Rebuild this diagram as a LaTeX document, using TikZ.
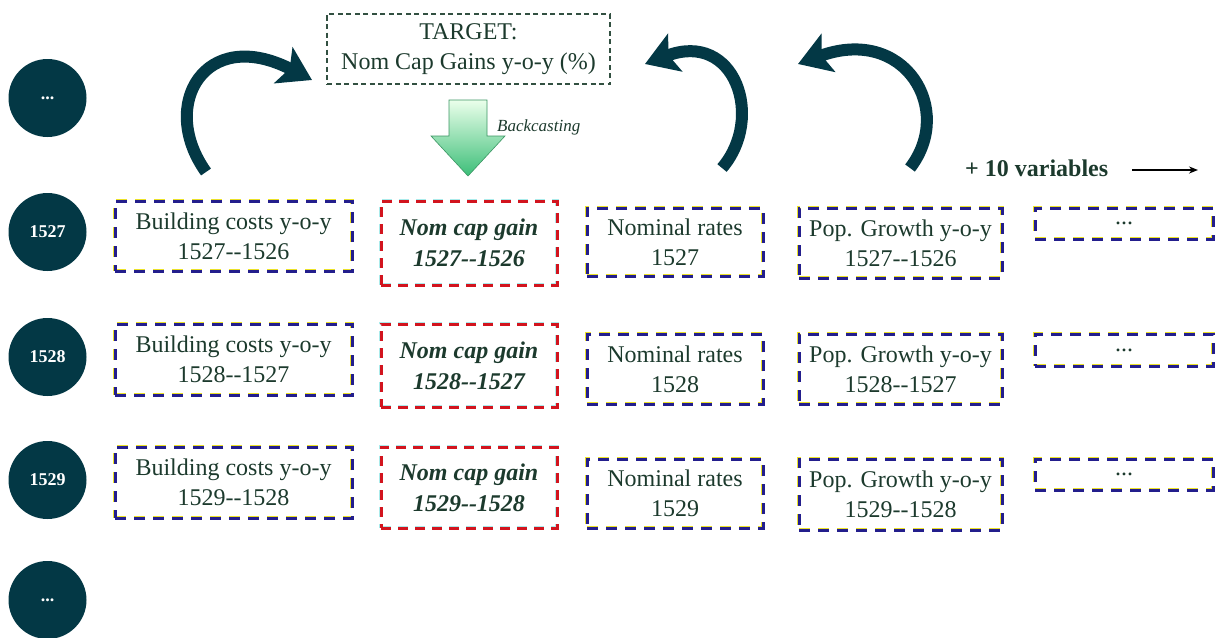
\documentclass[tikz,border=0pt]{standalone}
\usepackage{fontspec}
\setmainfont{Liberation Serif}
\usetikzlibrary{arrows.meta}
\definecolor{txt}{RGB}{28,58,45}
\definecolor{navy}{RGB}{35,30,140}
\definecolor{yel}{RGB}{235,225,40}
\definecolor{redd}{RGB}{210,20,30}
\definecolor{cyanl}{RGB}{170,235,235}
\definecolor{teal}{RGB}{3,56,69}
\definecolor{tgt}{RGB}{50,80,65}
\newcommand{\dd}{{-}{-}}
\tikzset{
  every node/.style={text=txt, align=center, inner sep=0pt},
  main/.style={font=\fontsize{24}{30}\selectfont},
  vbox/.style={main, draw=navy, line width=3pt, dash pattern=on 11pt off 8pt,
     preaction={draw=yel, line width=4.5pt, dash pattern=on 11pt off 8pt}},
  rbox/.style={font=\fontsize{24}{31}\selectfont\bfseries\itshape, draw=redd, line width=3pt, dash pattern=on 10pt off 7pt,
     preaction={draw=cyanl, line width=4.2pt, dash pattern=on 10pt off 7pt}},
  tbox/.style={main, draw=tgt, line width=1.6pt, dash pattern=on 5pt off 3.5pt},
  yr/.style={circle, fill=teal, minimum size=78pt, text=white, font=\fontsize{18}{20}\selectfont\bfseries},
  curvy/.style={draw=teal, line width=12pt, -{Stealth[length=32pt,width=40pt,inset=7pt]}},
}
\begin{document}
\begin{tikzpicture}[x=1pt,y=-1pt]
\useasboundingbox (0,0) rectangle (1215,637);

% year circles
\node[yr] (c0) at (47.5,98) {...};
\node[yr] (c1) at (47.5,232) {1527};
\node[yr] (c2) at (47.5,357) {1528};
\node[yr] (c3) at (47.5,480) {1529};
\node[yr] (c4) at (47.5,600) {...};

% target
\node[tbox, minimum width=283pt, minimum height=70pt] (tg) at (468.5,49) {TARGET:\\Nom Cap Gains y-o-y (\%)};

% backcasting arrow
\shade[top color=green!8!white, bottom color={rgb,255:red,60;green,190;blue,120}, draw={rgb,255:red,60;green,150;blue,100}, line width=0.6pt]
  (449,100) -- (487,100) -- (487,136) -- (505,136) -- (468,176) -- (431,136) -- (449,136) -- cycle;
\node[font=\fontsize{17}{20}\selectfont\itshape, anchor=west] (bc) at (497,127) {Backcasting};

% curved arrows
\coordinate (s1) at (206,172); \coordinate (t1) at (312,80);
\draw[curvy] (s1) .. controls (158,105) and (205,25) .. (t1);
\coordinate (s2) at (722,168); \coordinate (t2) at (645,64);
\draw[curvy] (s2) .. controls (765,118) and (735,30) .. (t2);
\coordinate (s3) at (910,168); \coordinate (t3) at (798,64);
\draw[curvy] (s3) .. controls (955,110) and (905,25) .. (t3);

% + 10 variables
\node[font=\fontsize{24}{28}\selectfont\bfseries, anchor=west] (pv) at (965,168) {+ 10 variables};
\coordinate (a1) at (1132,170); \coordinate (a2) at (1198,170);
\draw[line width=1.6pt, -{Stealth[length=9pt,width=7pt]}] (a1) -- (a2);

% row 1
\node[vbox, minimum width=237pt, minimum height=70pt] (b1) at (233.5,236) {Building costs y-o-y\\1527\dd1526};
\node[rbox, minimum width=176pt, minimum height=84pt] (r1) at (469,243) {Nom cap gain\\1527\dd1526};
\node[vbox, minimum width=176pt, minimum height=68pt] (n1) at (675,242) {Nominal rates\\1527};
\node[vbox, minimum width=203pt, minimum height=70pt] (p1) at (900.5,243) {Pop. Growth y-o-y\\1527\dd1526};
\node[vbox, minimum width=178pt, minimum height=31pt] (d1) at (1124,223.5) {...};

% row 2
\node[vbox, minimum width=237pt, minimum height=71pt] (b2) at (233.5,359.5) {Building costs y-o-y\\1528\dd1527};
\node[rbox, minimum width=176pt, minimum height=83pt] (r2) at (469,365.5) {Nom cap gain\\1528\dd1527};
\node[vbox, minimum width=176pt, minimum height=70pt] (n2) at (675,369) {Nominal rates\\1528};
\node[vbox, minimum width=203pt, minimum height=70pt] (p2) at (900.5,369) {Pop. Growth y-o-y\\1528\dd1527};
\node[vbox, minimum width=178pt, minimum height=32pt] (d2) at (1124,350) {...};

% row 3
\node[vbox, minimum width=237pt, minimum height=71pt] (b3) at (233.5,482.5) {Building costs y-o-y\\1529\dd1528};
\node[rbox, minimum width=176pt, minimum height=81pt] (r3) at (469,487.5) {Nom cap gain\\1529\dd1528};
\node[vbox, minimum width=176pt, minimum height=69pt] (n3) at (675,493.5) {Nominal rates\\1529};
\node[vbox, minimum width=203pt, minimum height=71pt] (p3) at (900.5,494.5) {Pop. Growth y-o-y\\1529\dd1528};
\node[vbox, minimum width=178pt, minimum height=31pt] (d3) at (1124,474.5) {...};
\end{tikzpicture}
\end{document}
